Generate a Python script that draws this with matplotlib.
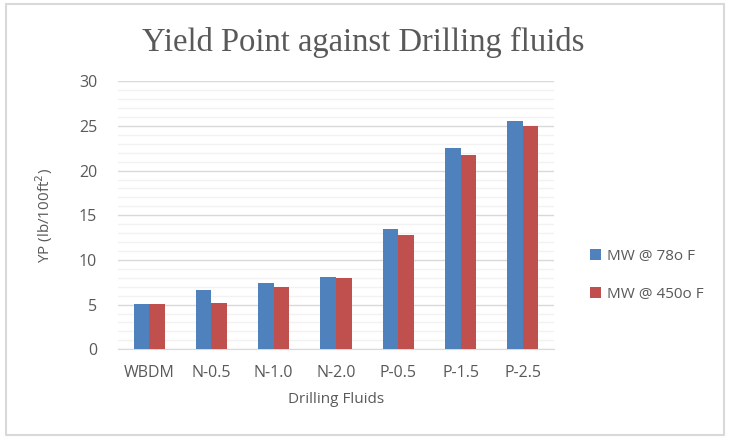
import matplotlib
matplotlib.use("Agg")
import matplotlib.pyplot as plt
from matplotlib.patches import Rectangle
import numpy as np

fluids = ["WBDM", "N-0.5", "N-1.0", "N-2.0", "P-0.5", "P-1.5", "P-2.5"]
yp_78 = [5.1, 6.6, 7.4, 8.1, 13.5, 22.5, 25.6]
yp_450 = [5.1, 5.2, 7.0, 8.0, 12.8, 21.8, 25.0]

BLUE = "#4f81bd"
RED = "#c0504d"
GREY = "#595959"

plt.rcParams["font.family"] = ["Open Sans", "DejaVu Sans"]

fig = plt.figure(figsize=(7.30, 4.44), dpi=100)
# chart area border
fig.patches.append(Rectangle((5.5 / 730, 1 - 435 / 444), 718 / 730, 431 / 444,
                             transform=fig.transFigure, fill=False,
                             edgecolor="#d9d9d9", linewidth=1.5))
ax = fig.add_axes([0.1616, 0.2133, 0.5974, 0.6036])

x = np.arange(len(fluids))
w = 0.25
ax.bar(x - w / 2, yp_78, w, color=BLUE, label="MW @ 78o F", zorder=3)
ax.bar(x + w / 2, yp_450, w, color=RED, label="MW @ 450o F", zorder=3)

ax.set_xlim(-0.5, len(fluids) - 0.5)
ax.set_ylim(0, 30)
ax.set_yticks(range(0, 31, 5))
ax.set_yticks(range(0, 31, 1), minor=True)
ax.grid(axis="y", which="major", color="#d9d9d9", linewidth=1.0, zorder=0)
ax.grid(axis="y", which="minor", color="#f2f2f2", linewidth=1.0, zorder=0)
ax.set_xticks(x)
ax.set_xticklabels(fluids)
ax.tick_params(axis="both", which="both", length=0, colors=GREY, labelsize=11.5)
ax.tick_params(axis="x", pad=11)
ax.tick_params(axis="y", pad=15)
for s in ["top", "right", "left"]:
    ax.spines[s].set_visible(False)
ax.spines["bottom"].set_color("#d9d9d9")

ax.set_xlabel("Drilling Fluids", color=GREY, fontsize=11, labelpad=8)
ax.set_ylabel("YP (lb/100ft$^2$)", color=GREY, fontsize=11)
ax.yaxis.set_label_coords(-0.144, 0.5)

fig.text(0.497, 0.905, "Yield Point against Drilling fluids", ha="center", va="center",
         fontsize=23.5, color=GREY, family=["Liberation Serif", "DejaVu Serif"])

leg = fig.legend(loc="center left", bbox_to_anchor=(0.79, 0.38), frameon=False,
                 fontsize=11, handlelength=0.7, handleheight=0.7, labelspacing=1.5,
                 handletextpad=0.4)
for t in leg.get_texts():
    t.set_color(GREY)

fig.savefig("out.png", dpi=100)
